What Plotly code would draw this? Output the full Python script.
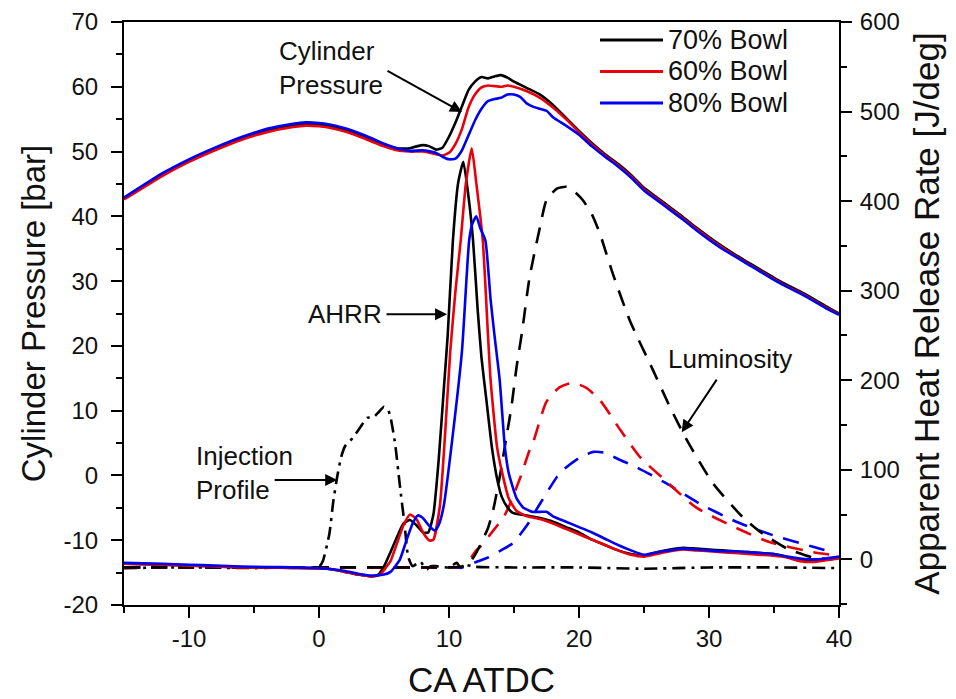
import plotly.graph_objects as go

# ---------------- data ----------------
# Cylinder pressure [bar] (left axis)
p70_x = [-15, -12, -10, -8, -6, -4, -2, -1, 0, 1, 2, 3, 4, 5, 6, 7, 7.5, 8, 8.5, 9, 9.5, 10, 10.5, 11, 11.5, 12, 12.5, 13, 13.5, 14, 14.5, 15, 16, 17, 18, 19, 20, 21, 22, 23, 24, 25, 26, 27, 28, 29, 30, 31, 32, 33, 34, 35, 36, 37, 38, 39, 40]
p70_y = [42.8, 46.5, 48.6, 50.4, 52.0, 53.3, 54.1, 54.3, 54.2, 53.9, 53.4, 52.7, 51.9, 51.1, 50.5, 50.5, 50.8, 51.0, 50.8, 50.3, 50.6, 52.3, 54.5, 57.0, 59.5, 60.8, 61.5, 61.3, 61.6, 61.8, 61.4, 60.8, 59.8, 58.8, 57.2, 55.2, 53.2, 51.3, 49.6, 48.1, 46.4, 44.4, 42.9, 41.4, 39.9, 38.3, 36.8, 35.4, 34.1, 32.9, 31.7, 30.5, 29.4, 28.4, 27.3, 26.1, 25.0]

p60_x = [-15, -12, -10, -8, -6, -4, -2, -1, 0, 1, 2, 3, 4, 5, 6, 7, 8, 9, 9.5, 10, 10.5, 11, 11.5, 12, 12.5, 13, 13.5, 14, 14.5, 15, 16, 17, 18, 19, 20, 21, 22, 23, 24, 25, 26, 27, 28, 29, 30, 31, 32, 33, 34, 35, 36, 37, 38, 39, 40]
p60_y = [42.6, 46.3, 48.4, 50.2, 51.8, 53.0, 53.8, 54.0, 53.9, 53.6, 53.1, 52.4, 51.6, 50.8, 50.2, 50.0, 50.0, 49.6, 49.4, 49.8, 51.2, 53.5, 56.8, 58.8, 59.9, 60.2, 60.1, 60.0, 60.2, 60.0, 59.3, 58.3, 56.8, 55.0, 53.0, 51.1, 49.4, 47.9, 46.2, 44.2, 42.7, 41.2, 39.7, 38.1, 36.6, 35.2, 33.9, 32.7, 31.5, 30.3, 29.2, 28.2, 27.1, 25.9, 24.9]

p80_x = [-15, -12, -10, -8, -6, -4, -2, -1, 0, 1, 2, 3, 4, 5, 6, 7, 8, 9, 9.5, 10, 10.5, 11, 11.5, 12, 12.5, 13, 13.5, 14, 14.5, 15, 15.5, 16, 16.5, 17, 17.5, 18, 19, 20, 21, 22, 23, 24, 25, 26, 27, 28, 29, 30, 31, 32, 33, 34, 35, 36, 37, 38, 39, 40]
p80_y = [42.9, 46.7, 48.8, 50.6, 52.2, 53.5, 54.3, 54.5, 54.4, 54.1, 53.6, 52.9, 52.1, 51.2, 50.5, 50.1, 50.2, 49.8, 49.2, 48.8, 48.9, 50.2, 52.5, 54.8, 56.6, 57.8, 58.1, 58.3, 58.8, 58.8, 58.4, 57.4, 56.9, 56.6, 56.3, 55.3, 54.0, 52.6, 50.8, 49.2, 47.7, 46.0, 44.0, 42.5, 41.0, 39.5, 37.9, 36.4, 35.0, 33.8, 32.6, 31.4, 30.2, 29.1, 28.1, 27.0, 25.8, 24.8]

# Apparent heat release rate [J/deg] (right axis)
h70_x = [-15, -12, -10, -8, -6, -4, -2, 0, 1, 2, 3, 4, 4.5, 5, 5.5, 6, 6.5, 7, 7.5, 8, 8.4, 8.8, 9.2, 9.6, 9.9, 10.3, 10.7, 11.1, 11.5, 11.85, 12.2, 12.5, 12.9, 13.3, 13.7, 14.05, 14.5, 14.9, 15.5, 16, 17, 18, 19, 20, 21, 22, 23, 24, 25, 26, 27, 28, 29, 30, 31, 32, 33, 34, 35, 36, 37, 38, 39, 40]
h70_y = [-5, -6, -7, -8, -9, -9, -9.5, -10, -11, -14, -17, -19, -18, -8, 8, 25, 40, 44, 38, 30, 30, 50, 110, 190, 250, 356, 420, 444, 405, 356, 280, 225, 175, 125, 90, 70, 58, 52, 50, 49, 46, 42, 36, 30, 22, 16, 10, 6, 4, 8, 11, 13, 12, 11, 10, 9, 8, 7, 6, 3, -1, -2, 0, 2]

h60_x = [-15, -12, -10, -8, -6, -4, -2, 0, 1, 2, 3, 4, 4.7, 5.2, 5.5, 6, 6.5, 7, 7.5, 8, 8.5, 8.8, 9.3, 9.7, 10.1, 10.5, 10.9, 11.3, 11.75, 12.1, 12.6, 13.0, 13.2, 13.7, 14.1, 14.6, 15.2, 16, 17, 18, 19, 20, 21, 22, 23, 24, 25, 26, 27, 28, 29, 30, 31, 32, 33, 34, 35, 36, 37, 38, 39, 40]
h60_y = [-5, -6, -7, -8, -9, -9, -9.5, -10, -11, -14, -17, -19, -17, -8, -2, 18, 38, 50, 45, 30, 21, 22, 60, 140, 233, 300, 356, 420, 459, 420, 356, 250, 200, 125, 96, 68, 54, 48, 45, 40, 34, 28, 22, 16, 10, 5, 3, 6, 9, 11, 10, 9, 8, 7, 6, 5, 4, 2, -2, -3, -1, 1]

h80_x = [-15, -12, -10, -8, -6, -4, -2, 0, 1, 2, 3, 4, 5, 5.5, 6.2, 6.7, 7.2, 7.6, 8.0, 8.5, 8.9, 9.2, 9.6, 10.3, 11.0, 11.55, 11.8, 12.1, 12.4, 12.8, 13.2, 13.5, 13.9, 14.3, 14.6, 15.2, 15.7, 16.4, 17, 17.5, 18, 19, 20, 21, 22, 23, 24, 25, 26, 27, 28, 29, 30, 31, 32, 33, 34, 35, 36, 37, 38, 39, 40]
h80_y = [-4, -5, -6, -7, -8, -8.5, -9, -10, -11, -13, -16, -18, -17, -14, -1, 20, 40, 49, 46, 37, 32, 38, 60, 140, 233, 356, 375, 383, 370, 356, 290, 250, 200, 125, 96, 68, 58, 53, 53, 53, 48, 42, 36, 30, 23, 16, 10, 5, 8, 10, 12, 11, 10, 9, 9, 8, 7, 6, 3, 1, 0, 1, 3]

# Injection profile (plotted on left axis scale)
inj_x = [-15, -10, -5, -2, 0, 0.3, 0.8, 1.1, 1.4, 1.7, 2.0, 2.6, 3.2, 3.7, 4.2, 4.6, 5.0, 5.3, 5.5, 5.85, 6.2, 6.6, 6.85, 7.2, 7.8, 8.0, 8.3, 8.6, 9, 10, 10.6, 10.9, 11.2, 12, 15, 20, 25, 30, 35, 40]
inj_y = [-14.3, -14.2, -14.3, -14.2, -14.1, -13.2, -9.0, -4.0, -0.2, 2.8, 4.5, 5.8, 7.5, 8.9, 9.0, 9.8, 10.6, 10.2, 9.0, 5.0, -1.2, -7.9, -12.5, -14.0, -13.3, -13.8, -14.5, -14.0, -14.0, -14.2, -13.5, -14.3, -13.8, -14.1, -14.2, -14.2, -14.4, -14.2, -14.2, -14.3]

# Luminosity (arbitrary, plotted on right axis scale)
l70_x = [-15, -5, 0, 5, 10, 11, 11.5, 12, 12.4, 13, 13.4, 13.9, 14.4, 14.8, 15.2, 15.6, 16.2, 17, 17.5, 18.3, 19.05, 19.7, 20.3, 21.0, 21.6, 22.6, 23.9, 25.7, 27, 28.3, 30.3, 32.6, 34, 36, 38, 39.5]
l70_y = [-9, -9, -9, -9, -9, -8, -5, 5, 16, 35, 55, 92, 135, 170, 215, 252, 315, 371, 401, 414, 416, 410, 401, 385, 364, 319, 267, 211, 170, 133, 85, 47, 30, 12, 2, 0]

l60_x = [-15, -5, 0, 5, 10, 11, 11.5, 12.1, 12.4, 13.4, 14.2, 14.7, 15.5, 16.2, 16.5, 17.5, 18.5, 19.5, 20.5, 21.6, 23.2, 24.7, 26.5, 29, 32.1, 34.7, 38, 39.5]
l60_y = [-9, -9, -9, -9, -9, -8, -2, 10, 14, 32, 47, 62, 92, 122, 132, 176, 192, 197, 192, 178, 144, 114, 90, 58, 35, 19, 8, 5]

l80_x = [-15, -5, 0, 5, 10, 11, 12.1, 13, 14, 14.9, 16, 16.7, 17.0, 18.3, 18.8, 20, 21.1, 22, 23, 24.4, 26.7, 29.3, 32.1, 34.9, 38, 39.5]
l80_y = [-9, -9, -9, -9, -9, -9, -3, 2, 10, 18, 38, 55, 62, 92, 100, 113, 120, 119, 112, 103, 85, 62, 42, 27, 14, 8]

series_names = ["70% Bowl", "60% Bowl", "80% Bowl"]
colors = ["#000000", "#e8000b", "#0000f0"]

x_ticks = [-10, 0, 10, 20, 30, 40]
x_tick_labels = ["-10", "0", "10", "20", "30", "40"]
y_ticks = [-20, -10, 0, 10, 20, 30, 40, 50, 60, 70]
y_tick_labels = ["-20", "-10", "0", "10", "20", "30", "40", "50", "60", "70"]
y2_ticks = [0, 100, 200, 300, 400, 500, 600]
y2_tick_labels = ["0", "100", "200", "300", "400", "500", "600"]

# ---------------- figure ----------------
FONT = "Liberation Sans, Arial, Helvetica, sans-serif"
INK = "#111111"
LW = 2.6
fig = go.Figure()

# luminosity (dashed)
for lx, ly, c in [(l80_x, l80_y, colors[2]), (l60_x, l60_y, colors[1]), (l70_x, l70_y, colors[0])]:
    fig.add_trace(go.Scatter(x=lx, y=ly, yaxis="y2", mode="lines", showlegend=False,
                             line=dict(color=c, width=LW, dash="16px,11px", shape="spline", smoothing=0.6)))

# injection profile (dash-dot)
fig.add_trace(go.Scatter(x=inj_x, y=inj_y, mode="lines", showlegend=False,
                         line=dict(color="#000000", width=LW, dash="13px,6px,3px,6px", shape="spline", smoothing=0.5)))

# AHRR (solid, right axis)
for hx, hy, c in [(h70_x, h70_y, colors[0]), (h60_x, h60_y, colors[1]), (h80_x, h80_y, colors[2])]:
    fig.add_trace(go.Scatter(x=hx, y=hy, yaxis="y2", mode="lines", showlegend=False,
                             line=dict(color=c, width=LW, shape="spline", smoothing=0.5)))

# cylinder pressure (solid, left axis)
for px_, py_, c, n in [(p70_x, p70_y, colors[0], series_names[0]),
                       (p60_x, p60_y, colors[1], series_names[1]),
                       (p80_x, p80_y, colors[2], series_names[2])]:
    fig.add_trace(go.Scatter(x=px_, y=py_, mode="lines", name=n, showlegend=False,
                             line=dict(color=c, width=LW, shape="spline", smoothing=0.5)))

tickfont = dict(family=FONT, size=24, color=INK)
titlefont = dict(family=FONT, size=33, color=INK)
minor_common = dict(ticks="outside", ticklen=6, tickwidth=2, tickcolor="black", showgrid=False)

fig.update_layout(
    width=956, height=699,
    margin=dict(l=124, r=117, t=22, b=94, autoexpand=False),
    paper_bgcolor="white", plot_bgcolor="white",
    font=dict(family=FONT, color=INK),
    showlegend=False,
    xaxis=dict(range=[-15, 40], tickvals=x_ticks, ticktext=x_tick_labels, ticks="outside", ticklen=11, tickwidth=2,
               tickcolor="black", showline=True, linecolor="black", linewidth=2, mirror=True,
               showgrid=False, zeroline=False, tickfont=tickfont,
               minor=dict(dtick=5, tick0=0, **minor_common),
               title=dict(text="CA ATDC", font=dict(family=FONT, size=35, color=INK), standoff=18)),
    yaxis=dict(range=[-20, 70], tickvals=y_ticks, ticktext=y_tick_labels, ticks="outside", ticklen=11, tickwidth=2,
               tickcolor="black", showline=True, linecolor="black", linewidth=2,
               showgrid=False, zeroline=False, tickfont=tickfont, ticklabelstandoff=8,
               minor=dict(dtick=5, tick0=0, **minor_common),
               title=dict(text="Cylinder Pressure [bar]", font=titlefont, standoff=8)),
    yaxis2=dict(range=[-51, 600], tickvals=y2_ticks, ticktext=y2_tick_labels, ticks="outside", ticklen=11, tickwidth=2,
                tickcolor="black", showline=True, linecolor="black", linewidth=2,
                overlaying="y", side="right", anchor="x",
                showgrid=False, zeroline=False, tickfont=tickfont, ticklabelstandoff=3,
                minor=dict(dtick=50, tick0=0, **minor_common),
                title=dict(text="Apparent Heat Release Rate [J/deg]", font=dict(family=FONT, size=35, color=INK), standoff=16)),
)

# manual legend (long line samples as in the original)
plot_l, plot_w, plot_t, plot_h = 124, 715, 22, 583
def px_to_paper(xp, yp):
    return (xp - plot_l) / plot_w, 1 - (yp - plot_t) / plot_h
for i, (name, c) in enumerate(zip(series_names, colors)):
    yrow = 40 + i * 31.5
    xa, ya = px_to_paper(600, yrow)
    xb, _ = px_to_paper(663, yrow)
    xt, _ = px_to_paper(666, yrow)
    fig.add_shape(type="line", xref="paper", yref="paper", x0=xa, x1=xb, y0=ya, y1=ya,
                  line=dict(color=c, width=3.2))
    fig.add_annotation(x=xt, y=ya, xref="paper", yref="paper", text=name, showarrow=False,
                       xanchor="left", yanchor="middle", font=dict(family=FONT, size=27, color=INK))

ann_font = dict(family=FONT, size=26, color=INK)
arrow = dict(showarrow=True, arrowhead=2, arrowsize=1.2, arrowwidth=2, arrowcolor="black", text="")

# Cylinder Pressure label + arrow
fig.add_annotation(x=-3.2, y=62.9, xref="x", yref="y", text="Cylinder<br>Pressure", showarrow=False,
                   font=ann_font, align="left", xanchor="left", yanchor="middle")
fig.add_annotation(x=11.0, y=56.1, xref="x", yref="y", ax=-76, ay=-42, **arrow)
# AHRR
fig.add_annotation(x=2.0, y=24.9, xref="x", yref="y", text="AHRR", showarrow=False,
                   font=ann_font, xanchor="center", yanchor="middle")
fig.add_annotation(x=9.85, y=24.9, xref="x", yref="y", ax=-62, ay=0, **arrow)
# Injection profile
fig.add_annotation(x=-9.6, y=0.4, xref="x", yref="y", text="Injection<br>Profile", showarrow=False,
                   font=ann_font, align="left", xanchor="left", yanchor="middle")
fig.add_annotation(x=1.4, y=-0.7, xref="x", yref="y", ax=-64, ay=0, **arrow)
# Luminosity
fig.add_annotation(x=31.6, y=224, xref="x", yref="y2", text="Luminosity", showarrow=False,
                   font=ann_font, xanchor="center", yanchor="middle")
fig.add_annotation(x=27.9, y=142, xref="x", yref="y2", ax=36, ay=-54, **arrow)

fig.write_html("out.html")
